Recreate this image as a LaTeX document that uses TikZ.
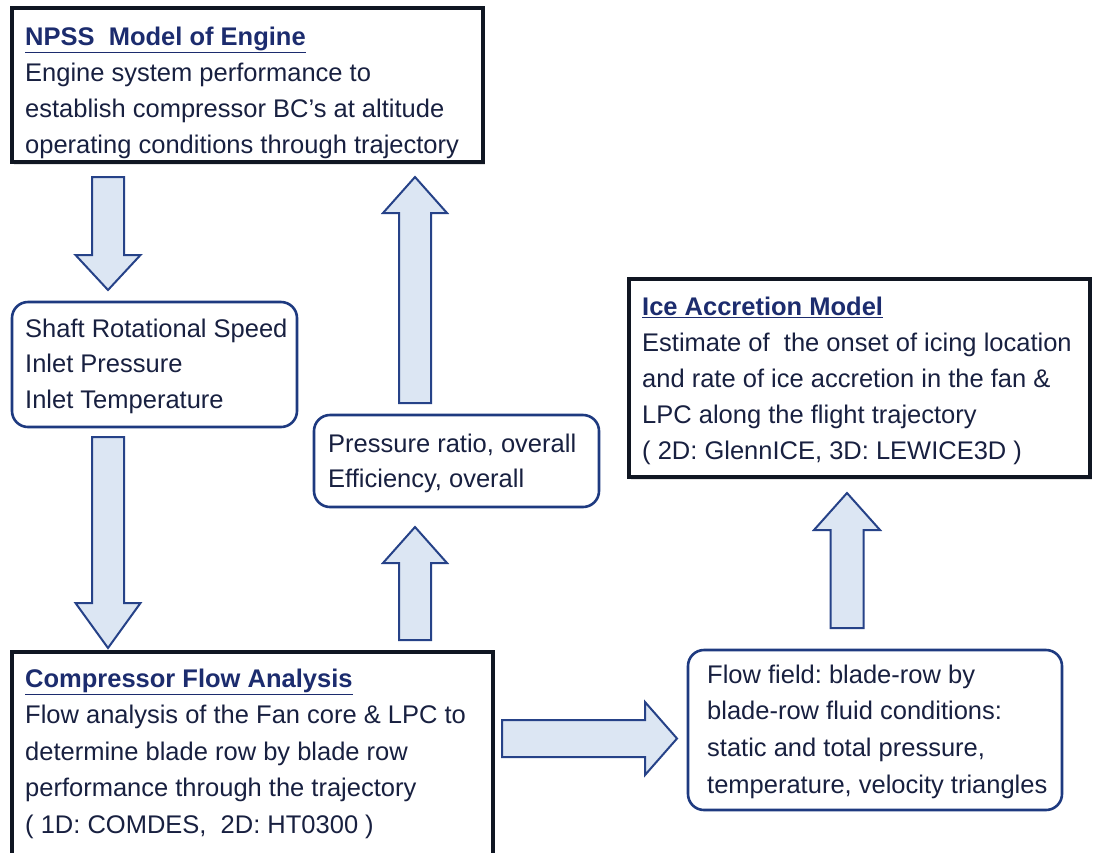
\documentclass[tikz,border=0pt]{standalone}
\usepackage{fontspec}
\setmainfont{Liberation Sans}
\usetikzlibrary{calc,shadows}
\definecolor{txt}{RGB}{24,32,64}
\definecolor{ttl}{RGB}{28,44,110}
\definecolor{rbd}{RGB}{30,58,128}
\definecolor{afill}{RGB}{220,230,243}
\definecolor{abd}{RGB}{38,66,136}
\definecolor{sbd}{RGB}{16,22,34}
% vertical block arrow: #1 start, #2 tip, #3 head length, #4 shaft half width, #5 head half width
\newcommand\vblockarrow[5]{%
  \draw[barrow] let \p1=#1, \p2=#2, \n1={sign(\y2-\y1)} in
    ({\x1-#4},{\y1}) -- ({\x1-#4},{\y2-(\n1)*#3}) -- ({\x1-#5},{\y2-(\n1)*#3}) -- (\x2,\y2)
    -- ({\x1+#5},{\y2-(\n1)*#3}) -- ({\x1+#4},{\y2-(\n1)*#3}) -- ({\x1+#4},{\y1}) -- cycle;}
% horizontal block arrow
\newcommand\hblockarrow[5]{%
  \draw[barrow] let \p1=#1, \p2=#2, \n1={sign(\x2-\x1)} in
    ({\x1},{\y1-#4}) -- ({\x2-(\n1)*#3},{\y1-#4}) -- ({\x2-(\n1)*#3},{\y1-#5}) -- (\x2,\y2)
    -- ({\x2-(\n1)*#3},{\y1+#5}) -- ({\x2-(\n1)*#3},{\y1+#4}) -- ({\x1},{\y1+#4}) -- cycle;}
\newcommand\ttlline[1]{{\color{ttl}\bfseries\underline{#1}}}
\frenchspacing
\begin{document}
\begin{tikzpicture}[x=1pt,y=-1pt,
  sqbox/.style={draw=sbd, line width=3.5pt, fill=white,
    drop shadow={shadow xshift=2pt,shadow yshift=-3pt,opacity=0.22,fill=gray},
    inner sep=0pt, outer sep=0pt, anchor=north west},
  rbox/.style={draw=rbd, line width=2.6pt, rounded corners=16pt, fill=white,
    inner sep=0pt, outer sep=0pt, anchor=north west},
  txtnode/.style={anchor=north west, inner sep=0pt, align=left, text=txt,
    font=\fontsize{25.5}{36.2}\selectfont},
  barrow/.style={draw=abd, fill=afill, line width=2pt, line join=miter}]
\useasboundingbox (0,0) rectangle (1094,852);
\clip (0,0) rectangle (1094,852);
\fill[white] (0,0) rectangle (1094,852);

% boxes
\node[sqbox, minimum width=471, minimum height=154] (npss) at (12,8) {};
\node[rbox, minimum width=285, minimum height=125] (shaft) at (12,302) {};
\node[rbox, minimum width=285, minimum height=92] (pres) at (314,415) {};
\node[sqbox, minimum width=461, minimum height=198] (ice) at (629,279) {};
\node[sqbox, minimum width=481, minimum height=230] (comp) at (12,652) {};
\node[rbox, minimum width=374, minimum height=160] (flow) at (688,650) {};

% texts
\node[txtnode] (npsst) at ($(npss.north west)+(13,18.5)$)
  {\ttlline{NPSS\ \ Model of Engine}\\
   Engine system performance to\\
   establish compressor BC’s at altitude\\
   operating conditions through trajectory};
\node[txtnode, font=\fontsize{25.5}{35.5}\selectfont] (shaftt) at ($(shaft.north west)+(13,16.5)$)
  {Shaft Rotational Speed\\ Inlet Pressure\\ Inlet Temperature};
\node[txtnode, font=\fontsize{25.5}{35}\selectfont] (prest) at ($(pres.north west)+(14,18.5)$)
  {Pressure ratio, overall\\ Efficiency, overall};
\node[txtnode] (icet) at ($(ice.north west)+(13,17.5)$)
  {\ttlline{Ice Accretion Model}\\
   Estimate of\ \ the onset of icing location\\
   and rate of ice accretion in the fan \&\\
   LPC along the flight trajectory\\
   ( 2D: GlennICE, 3D: LEWICE3D )};
\node[txtnode, font=\fontsize{25.5}{36.5}\selectfont] (compt) at ($(comp.north west)+(13,16.5)$)
  {\ttlline{Compressor Flow Analysis}\\
   Flow analysis of the Fan core \& LPC to\\
   determine blade row by blade row\\
   performance through the trajectory\\
   ( 1D: COMDES,\ \ 2D: HT0300 )};
\node[txtnode, font=\fontsize{25.5}{36.7}\selectfont] (flowt) at ($(flow.north west)+(19,14.5)$)
  {Flow field: blade-row by\\
   blade-row fluid conditions:\\
   static and total pressure,\\
   temperature, velocity triangles};

% block arrows
\vblockarrow{($(npss.south west)+(96,15)$)}{($(shaft.north west)+(96,-12)$)}{35}{16}{32.5}
\vblockarrow{($(shaft.south west)+(96,10)$)}{($(comp.north west)+(96,-4)$)}{45}{16}{32.5}
\vblockarrow{($(pres.north west)+(101,-12)$)}{($(npss.south west)+(403,15)$)}{36}{16}{32}
\vblockarrow{($(comp.north west)+(403,-12)$)}{($(pres.south west)+(101,20)$)}{36}{16}{32}
\vblockarrow{($(flow.north west)+(159,-22)$)}{($(ice.south west)+(218,16)$)}{37}{16.5}{33}
\hblockarrow{($(comp.north east)+(9,86.5)$)}{($(flow.north west)+(-11,88.5)$)}{32}{18.5}{36.5}
\end{tikzpicture}
\end{document}
